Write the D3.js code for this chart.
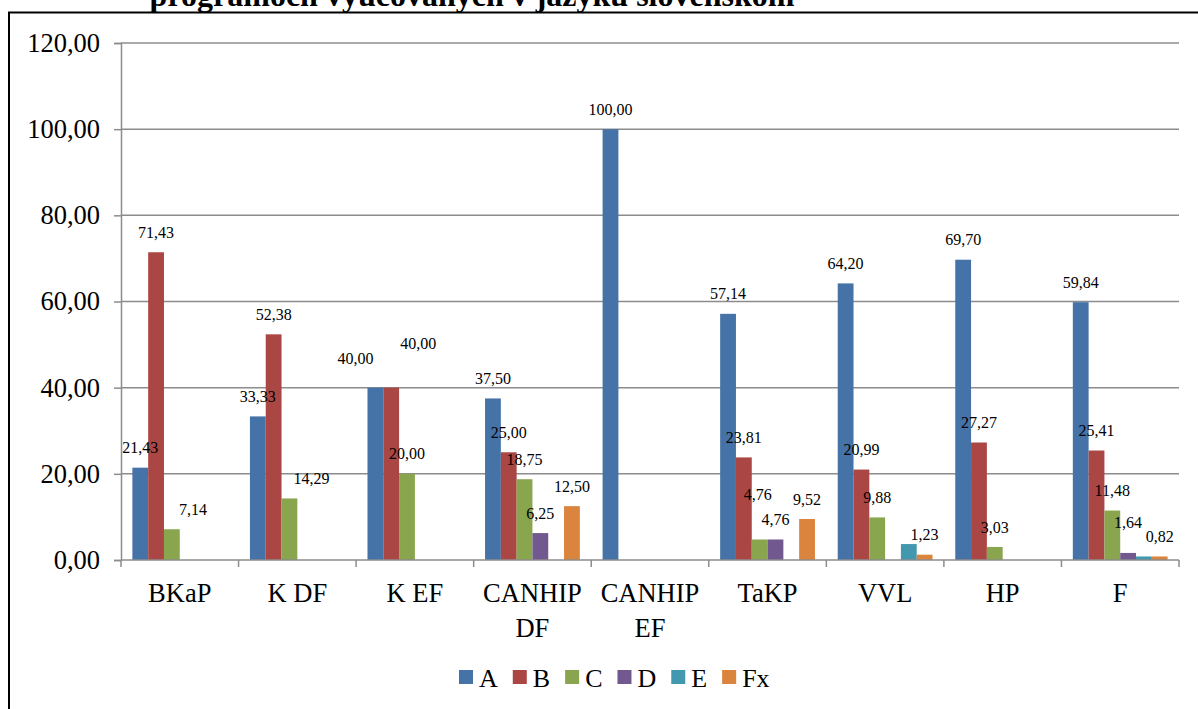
<!DOCTYPE html>
<html>
<head>
<meta charset="utf-8">
<script src="https://cdn.jsdelivr.net/npm/d3@7"></script>
<style>
    body { margin: 0; background: #fff; }
    text { font-family: "Liberation Serif", "Times New Roman", serif; fill: #000; }
</style>
</head>
<body>
<svg class="chart"></svg>
<script>
const CATEGORIES = ["BKaP", "K DF", "K EF", "CANHIP DF", "CANHIP EF", "TaKP", "VVL", "HP", "F"];
const SERIES = ["A", "B", "C", "D", "E", "Fx"];

const A_VALUES = [21.43, 33.33, 40.00, 37.50, 100.00, 57.14, 64.20, 69.70, 59.84];
const B_VALUES = [71.43, 52.38, 40.00, 25.00, 0, 23.81, 20.99, 27.27, 25.41];
const C_VALUES = [7.14, 14.29, 20.00, 18.75, 0, 4.76, 9.88, 3.03, 11.48];
const D_VALUES = [0, 0, 0, 6.25, 0, 4.76, 0, 0, 1.64];
const E_VALUES = [0, 0, 0, 0, 0, 0, 3.70, 0, 0.82];
const FX_VALUES = [0, 0, 0, 12.50, 0, 9.52, 1.23, 0, 0.82];

const Y_TICKS = [0, 20, 40, 60, 80, 100, 120];

const TITLE = "programoch vyučovaných v jazyku slovenskom";

makeChart();

function makeChart() {

    const colors = ["#4572A7", "#AA4643", "#89A54E", "#71588F", "#4198AF", "#DB843D"];
    const valuesBySeries = [A_VALUES, B_VALUES, C_VALUES, D_VALUES, E_VALUES, FX_VALUES];

    // series E carries no data labels in the original
    const unlabelled = ["E"];

    // labels that were dragged away from their default spot
    const labelNudge = {
        "BKaP|C": [21, 0],
        "K DF|C": [22, 0],
        "K EF|A": [-20, -9],
        "K EF|B": [27, -24],
        "TaKP|C": [-2, -25],
        "F|D": [0, -11]
    };

    const WIDTH = 1198, HEIGHT = 709;
    const plot = { left: 121, right: 1179, top: 43, bottom: 560 };

    const fmt = v => d3.format(".2f")(v).replace(".", ",");

    const svg = d3.select('.chart')
        .attr('width', WIDTH)
        .attr('height', HEIGHT);

    const x = d3.scaleBand()
        .domain(CATEGORIES)
        .range([plot.left, plot.right])
        .padding(0);

    const xs = d3.scaleBand()
        .domain(SERIES)
        .range([0, x.bandwidth()])
        .paddingInner(0)
        .paddingOuter(0.72);

    const y = d3.scaleLinear()
        .domain([0, 120])
        .range([plot.bottom, plot.top]);

    const color = d3.scaleOrdinal().domain(SERIES).range(colors);

    // title (its upper half lies above the picture, as in the original)
    svg.append('text')
        .attr('x', 472)
        .attr('y', 6)
        .attr('text-anchor', 'middle')
        .style('font-size', '32px')
        .style('font-weight', 'bold')
        .text(TITLE);

    // frame of the chart
    svg.append('rect')
        .attr('x', 9)
        .attr('y', 12.5)
        .attr('width', 1250)
        .attr('height', 800)
        .attr('fill', 'none')
        .attr('stroke', '#000')
        .attr('stroke-width', 2);

    // gridlines
    svg.append('g')
        .selectAll('line')
        .data(Y_TICKS.filter(d => d > 0))
        .enter()
        .append('line')
        .attr('x1', plot.left)
        .attr('x2', plot.right)
        .attr('y1', d => y(d))
        .attr('y2', d => y(d))
        .attr('stroke', '#8c8c8c')
        .attr('stroke-width', 1.5);

    // y axis
    const yAxis = svg.append('g')
        .attr('transform', 'translate(' + plot.left + ',0)')
        .call(d3.axisLeft(y).tickValues(Y_TICKS).tickSize(7).tickPadding(14).tickFormat(fmt));
    yAxis.selectAll('path, line').attr('stroke', '#8c8c8c').attr('stroke-width', 1.5);
    yAxis.selectAll('text')
        .style('font-size', '26.5px')
        .style('font-family', '"Liberation Serif", serif')
        .attr('fill', '#000');

    // bars
    const bars = [];
    SERIES.forEach((s, si) => {
        CATEGORIES.forEach((c, ci) => {
            const v = valuesBySeries[si][ci];
            if (v > 0) bars.push({ cat: c, series: s, value: v });
        });
    });

    svg.append('g')
        .selectAll('rect')
        .data(bars)
        .enter()
        .append('rect')
        .attr('x', d => x(d.cat) + xs(d.series))
        .attr('y', d => y(d.value))
        .attr('width', xs.bandwidth())
        .attr('height', d => y(0) - y(d.value))
        .attr('fill', d => color(d.series));

    // x axis
    const xAxisG = svg.append('g');
    xAxisG.append('line')
        .attr('x1', plot.left).attr('x2', plot.right)
        .attr('y1', plot.bottom).attr('y2', plot.bottom)
        .attr('stroke', '#8c8c8c').attr('stroke-width', 1.5);
    xAxisG.selectAll('.tick')
        .data(CATEGORIES.concat(["end"]))
        .enter()
        .append('line')
        .attr('x1', (d, i) => i < CATEGORIES.length ? x(d) : plot.right)
        .attr('x2', (d, i) => i < CATEGORIES.length ? x(d) : plot.right)
        .attr('y1', plot.bottom)
        .attr('y2', plot.bottom + 7)
        .attr('stroke', '#8c8c8c').attr('stroke-width', 1.5);

    const catLabels = xAxisG.selectAll('.cat')
        .data(CATEGORIES)
        .enter()
        .append('text')
        .attr('class', 'cat')
        .attr('x', d => x(d) + x.bandwidth() / 2)
        .attr('y', 602)
        .attr('text-anchor', 'middle')
        .style('font-size', '26.5px');
    catLabels.each(function (d) {
        const words = d.startsWith("CANHIP") ? d.split(" ") : [d];
        d3.select(this).selectAll('tspan')
            .data(words)
            .enter()
            .append('tspan')
            .attr('x', x(d) + x.bandwidth() / 2)
            .attr('dy', (w, i) => i === 0 ? 0 : 35)
            .text(w => w);
    });

    // data labels
    svg.append('g')
        .selectAll('text')
        .data(bars.filter(d => unlabelled.indexOf(d.series) < 0))
        .enter()
        .append('text')
        .attr('x', d => x(d.cat) + xs(d.series) + xs.bandwidth() / 2 + (labelNudge[d.cat + '|' + d.series] || [0, 0])[0])
        .attr('y', d => y(d.value) - 20 + (labelNudge[d.cat + '|' + d.series] || [0, 0])[1])
        .attr('dy', '0.35em')
        .attr('text-anchor', 'middle')
        .style('font-size', '16px')
        .text(d => fmt(d.value));

    // legend
    const legend = svg.append('g').attr('transform', 'translate(459,0)');
    let lx = 0;
    SERIES.forEach(s => {
        const item = legend.append('g').attr('transform', 'translate(' + lx + ',0)');
        item.append('rect')
            .attr('x', 0).attr('y', 670)
            .attr('width', 14).attr('height', 14)
            .attr('fill', color(s));
        const t = item.append('text')
            .attr('x', 20).attr('y', 687)
            .style('font-size', '26px')
            .text(s);
        lx += 20 + t.node().getComputedTextLength() + 15;
    });
}
</script>
</body>
</html>
